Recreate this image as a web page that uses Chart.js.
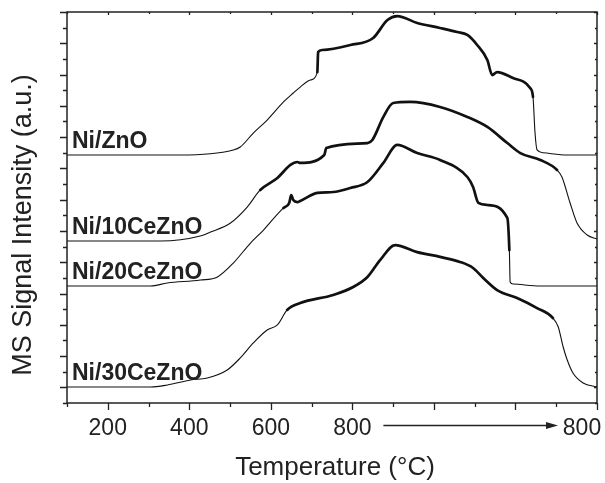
<!DOCTYPE html>
<html>
<head>
<meta charset="utf-8">
<script src="https://cdn.jsdelivr.net/npm/chart.js@4.4.1/dist/chart.umd.min.js"></script>
<style>
    body { margin: 0; background: #fff; }
</style>
</head>
<body>
<canvas id="canvas" width="605" height="483"></canvas>
<script>
const seriesNames = ['Ni/ZnO', 'Ni/10CeZnO', 'Ni/20CeZnO', 'Ni/30CeZnO'];

// x is the temperature ramp up to 800, then the 800 °C hold (right part of the axis)
const xZnO = [100, 378, 508, 525, 557, 591, 631, 655, 672, 697, 714, 716, 726, 795, 851, 886, 910, 959, 1015, 1057, 1082, 1106, 1131, 1143, 1155, 1194, 1236, 1243, 1248, 1253, 1268, 1327, 1400];
const yZnO = [15.86, 15.86, 16.18, 16.37, 17.26, 18.09, 19.25, 19.82, 20.2, 20.65, 21.16, 22.44, 22.57, 22.89, 23.34, 24.49, 24.74, 24.3, 23.98, 23.72, 23.53, 22.89, 21.93, 20.97, 21.16, 20.78, 20.14, 19.57, 17.26, 16.18, 16.0, 15.86, 15.86];

const x10 = [100, 329, 427, 452, 501, 542, 574, 616, 648, 665, 672, 731, 736, 837, 849, 876, 900, 942, 1015, 1082, 1131, 1180, 1212, 1261, 1302, 1314, 1334, 1351, 1376, 1400];
const y10 = [10.36, 10.36, 10.68, 10.93, 11.51, 12.53, 13.62, 14.39, 15.22, 15.41, 15.35, 15.86, 16.3, 16.62, 16.82, 18.29, 19.18, 19.25, 18.93, 18.29, 17.65, 16.62, 15.98, 15.54, 14.9, 14.45, 12.79, 11.51, 10.74, 10.49];

const x20 = [100, 305, 346, 427, 469, 508, 550, 582, 599, 631, 645, 650, 655, 665, 672, 714, 753, 795, 837, 876, 910, 959, 1015, 1082, 1096, 1109, 1131, 1180, 1185, 1187, 1194, 1261, 1400];
const y20 = [7.48, 7.48, 7.67, 7.86, 8.06, 8.95, 10.23, 11.06, 11.57, 12.47, 12.79, 13.3, 12.98, 12.85, 12.92, 13.43, 13.49, 13.75, 14.13, 15.35, 16.5, 15.98, 15.54, 14.45, 13.81, 12.79, 12.66, 11.83, 9.78, 7.74, 7.61, 7.48, 7.48];

const x30 = [100, 305, 346, 403, 444, 493, 525, 557, 591, 616, 640, 672, 753, 802, 837, 868, 905, 959, 1015, 1064, 1096, 1121, 1155, 1204, 1253, 1292, 1305, 1317, 1327, 1341, 1366, 1400];
const y30 = [1.02, 1.02, 1.15, 1.47, 1.6, 2.11, 2.88, 3.84, 4.67, 4.99, 5.95, 6.39, 6.91, 7.42, 8.06, 9.14, 10.1, 9.65, 9.34, 9.02, 8.63, 7.99, 7.22, 6.71, 6.07, 5.43, 4.86, 3.58, 2.75, 1.92, 1.28, 1.02];

const xTickValues = [200, 400, 600, 800, 1400];
const xTickLabels = ['200', '400', '600', '800', '800'];

// where the traces are noisy (drawn thicker)
const thickRanges = [[700, 1244], [550, 1302], [600, 1186], [620, 1292]];

const ink = '#222';
const font = '"Liberation Sans", Arial, sans-serif';

function toPoints(xs, ys) {
    return xs.map((x, i) => ({ x: x, y: ys[i] }));
}

const allX = [xZnO, x10, x20, x30];
const allY = [yZnO, y10, y20, y30];

const datasets = seriesNames.map((name, i) => ({
    label: name,
    data: toPoints(allX[i], allY[i]),
    borderColor: '#111',
    borderWidth: 1.1,
    borderCapStyle: 'round',
    borderJoinStyle: 'round',
    cubicInterpolationMode: 'monotone',
    pointRadius: 0,
    segment: {
        borderWidth: (ctx) => {
            const r = thickRanges[i];
            return ctx.p0.parsed.x >= r[0] && ctx.p1.parsed.x <= r[1] ? 2.7 : 1.1;
        },
    },
}));

const decorPlugin = {
    id: 'decor',
    afterDraw(chart) {
        const c = chart.ctx;
        const a = chart.chartArea;
        const xs = chart.scales.x;
        const ys = chart.scales.y;
        c.save();
        c.strokeStyle = ink;
        c.fillStyle = ink;

        // frame
        c.lineWidth = 1.5;
        c.strokeRect(a.left, a.top, a.right - a.left, a.bottom - a.top);

        // ticks
        c.lineWidth = 1.3;
        c.beginPath();
        for (let v = 100; v <= 1400; v += 100) {
            const px = Math.round(xs.getPixelForValue(v)) + 0.5;
            const major = v % 200 === 0;
            c.moveTo(px, a.bottom);
            c.lineTo(px, a.bottom + (major ? 7 : 4));
            c.moveTo(px, a.top);
            c.lineTo(px, a.top + (major ? 3 : 2));
        }
        for (let v = 0; v <= 25; v++) {
            const py = Math.round(ys.getPixelForValue(v)) + 0.5;
            const major = v % 2 === 1;
            c.moveTo(a.left, py);
            c.lineTo(a.left - (major ? 7 : 4), py);
            c.moveTo(a.right, py);
            c.lineTo(a.right - (major ? 3 : 2), py);
        }
        c.stroke();

        // x tick labels
        c.font = '23px ' + font;
        c.textBaseline = 'alphabetic';
        c.textAlign = 'center';
        xTickValues.forEach((v, i) => {
            let px = xs.getPixelForValue(v);
            if (i === xTickValues.length - 1) px -= 15;
            c.fillText(xTickLabels[i], px, 435);
        });

        // arrow from 800 to the end of the hold
        const x0 = xs.getPixelForValue(800) + 31;
        const x1 = xs.getPixelForValue(1400) - 39;
        c.lineWidth = 1.4;
        c.beginPath();
        c.moveTo(x0, 425.5);
        c.lineTo(x1 - 8, 425.5);
        c.stroke();
        c.beginPath();
        c.moveTo(x1, 425.5);
        c.lineTo(x1 - 12, 422);
        c.lineTo(x1 - 12, 429);
        c.closePath();
        c.fill();

        // axis titles
        c.font = '26px ' + font;
        c.textBaseline = 'middle';
        c.fillText('Temperature (\u00B0C)', 335, 468);
        c.save();
        c.translate(24, 225);
        c.rotate(-Math.PI / 2);
        c.font = '27px ' + font;
        c.fillText('MS Signal Intensity (a.u.)', 0, 0);
        c.restore();

        // series names just above each baseline
        c.font = 'bold 23px ' + font;
        c.textAlign = 'left';
        c.textBaseline = 'alphabetic';
        seriesNames.forEach((name, i) => {
            const py = ys.getPixelForValue(allY[i][0]) - 7;
            c.fillText(name, 72, py);
        });
        c.restore();
    },
};

new Chart('canvas', {
    type: 'line',
    data: { datasets: datasets },
    options: {
        responsive: false,
        animation: false,
        layout: { padding: { left: 67, right: 8, top: 12, bottom: 80 } },
        plugins: { legend: { display: false }, tooltip: { enabled: false } },
        scales: {
            x: { type: 'linear', min: 100, max: 1400, display: false },
            y: { type: 'linear', min: 0, max: 25, display: false },
        },
    },
    plugins: [decorPlugin],
});
</script>
</body>
</html>
